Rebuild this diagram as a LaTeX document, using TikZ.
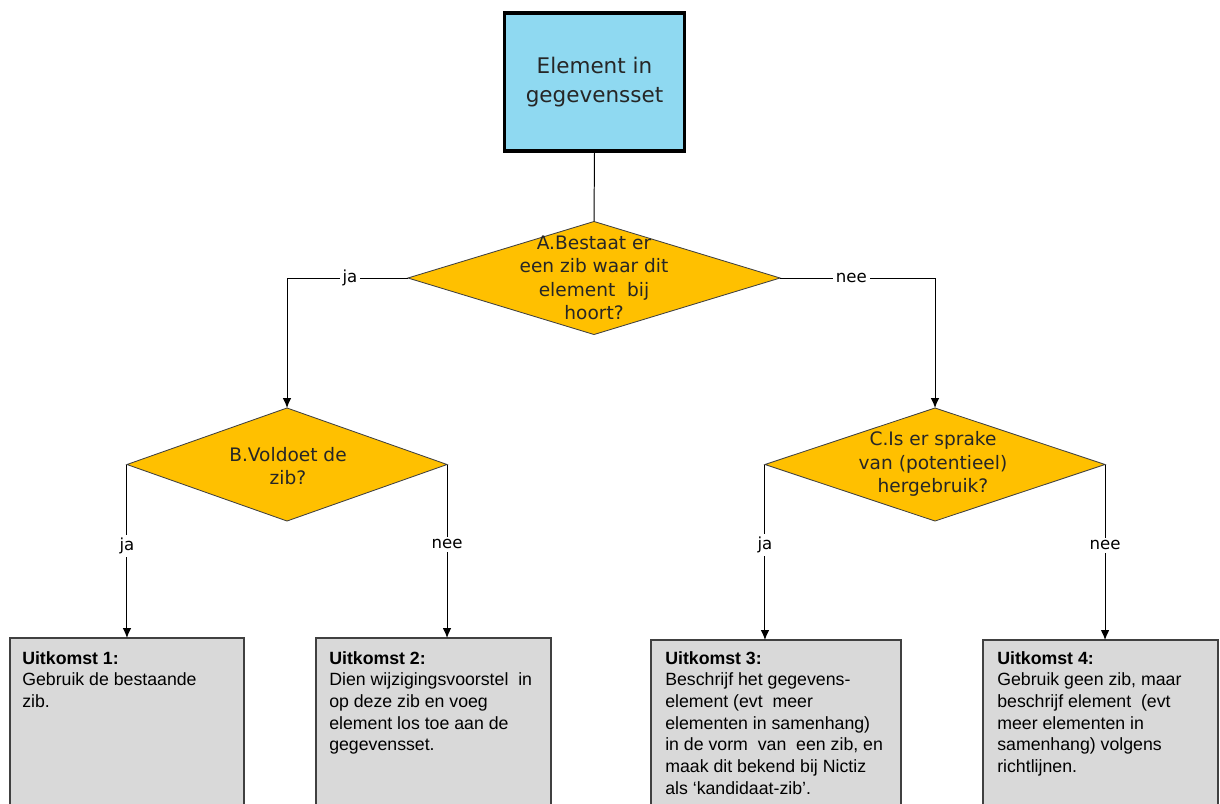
\documentclass[tikz,border=0pt]{standalone}
\usepackage{fontspec}
\setmainfont{Liberation Sans}
\newfontfamily\verdana{DejaVu Sans}
\usetikzlibrary{shapes,arrows.meta,positioning}
\definecolor{startblauw}{HTML}{8FD9F1}
\definecolor{keuzegeel}{HTML}{FFC000}
\definecolor{uitgrijs}{HTML}{D9D9D9}
\definecolor{randgrijs}{HTML}{404040}

\begin{document}
\begin{tikzpicture}[x=0.025cm, y=-0.025cm, >={Latex[length=7pt,width=6pt]},
	startbox/.style={draw=black, line width=2.2pt, fill=startblauw, minimum width=4.5cm, minimum height=3.45cm, outer sep=0pt,
		align=center, font=\verdana\fontsize{15.3}{20}\selectfont, text=black!85},
	keuze/.style={shape=diamond, draw=randgrijs, line width=0.6pt, fill=keuzegeel, inner sep=0pt, outer sep=0pt},
	keuzetekst/.style={align=center, font=\verdana\fontsize{13.2}{16.6}\selectfont, text=black!85, inner sep=0pt},
	uitkomst/.style={draw=randgrijs, line width=1.2pt, fill=uitgrijs, anchor=north west, minimum height=4.5cm, outer sep=0pt},
	uittekst/.style={anchor=north west, align=left, inner sep=0pt, font=\fontsize{12.6}{15.4}\selectfont},
	lbl/.style={fill=white, inner sep=2pt, font=\verdana\fontsize{11.8}{13}\selectfont},
	pijl/.style={->, line width=0.7pt}]
	\useasboundingbox (0,0) rectangle (1220,803);
	% start en keuzes
	\node[startbox] (start) at (594.5,82) {Element in\\gegevensset};
	\node[keuze, minimum width=9.3cm, minimum height=2.825cm] (A) at (594,278) {};
	\node[keuzetekst] at (A) {A.Bestaat er\\een zib waar dit\\element\ \ bij\\hoort?};
	\node[keuze, minimum width=8cm, minimum height=2.825cm] (B) at (287,464.5) {};
	\node[keuzetekst] at (288,466) {B.Voldoet de\\zib?};
	\node[keuze, minimum width=8.5cm, minimum height=2.825cm] (C) at (935,464.5) {};
	\node[keuzetekst] at (933,464) {C.Is er sprake\\van (potentieel)\\hergebruik?};
	% uitkomsten
	\node[uitkomst, minimum width=5.85cm] (u1) at (10,638) {};
	\node[uitkomst, minimum width=5.875cm] (u2) at (316,638) {};
	\node[uitkomst, minimum width=6.25cm] (u3) at (651,640) {};
	\node[uitkomst, minimum width=5.875cm] (u4) at (983,640) {};
	\node[uittekst] at ([shift={(12,13)}]u1.north west) {\textbf{Uitkomst 1:}\\Gebruik de bestaande\\zib.};
	\node[uittekst] at ([shift={(13,13)}]u2.north west) {\textbf{Uitkomst 2:}\\Dien wijzigingsvoorstel\ \ in\\op deze zib en voeg\\element los toe aan de\\gegevensset.};
	\node[uittekst] at ([shift={(14,11)}]u3.north west) {\textbf{Uitkomst 3:}\\Beschrijf het gegevens-\\element (evt\ \ meer\\elementen in samenhang)\\in de vorm\ \ van\ \ een zib, en\\maak dit bekend bij Nictiz\\als `kandidaat-zib'.};
	\node[uittekst] at ([shift={(14,11)}]u4.north west) {\textbf{Uitkomst 4:}\\Gebruik geen zib, maar\\beschrijf element\ \ (evt\\meer elementen in\\samenhang) volgens\\richtlijnen.};
	% verbindingen
	\draw[line width=0.7pt] (start.south) -- (A.north);
	\draw[pijl] (A.west) -| node[lbl, pos=0.24] {ja} (B.north);
	\draw[pijl] (A.east) -| node[lbl, pos=0.23] {nee} (C.north);
	\draw[pijl] (B.west) -- node[lbl, pos=0.47] {ja} (B.west |- u1.north);
	\draw[pijl] (B.east) -- node[lbl, pos=0.46] {nee} (B.east |- u2.north);
	\draw[pijl] (C.west) -- node[lbl, pos=0.46] {ja} (C.west |- u3.north);
	\draw[pijl] (C.east) -- node[lbl, pos=0.46] {nee} (C.east |- u4.north);
\end{tikzpicture}
\end{document}
